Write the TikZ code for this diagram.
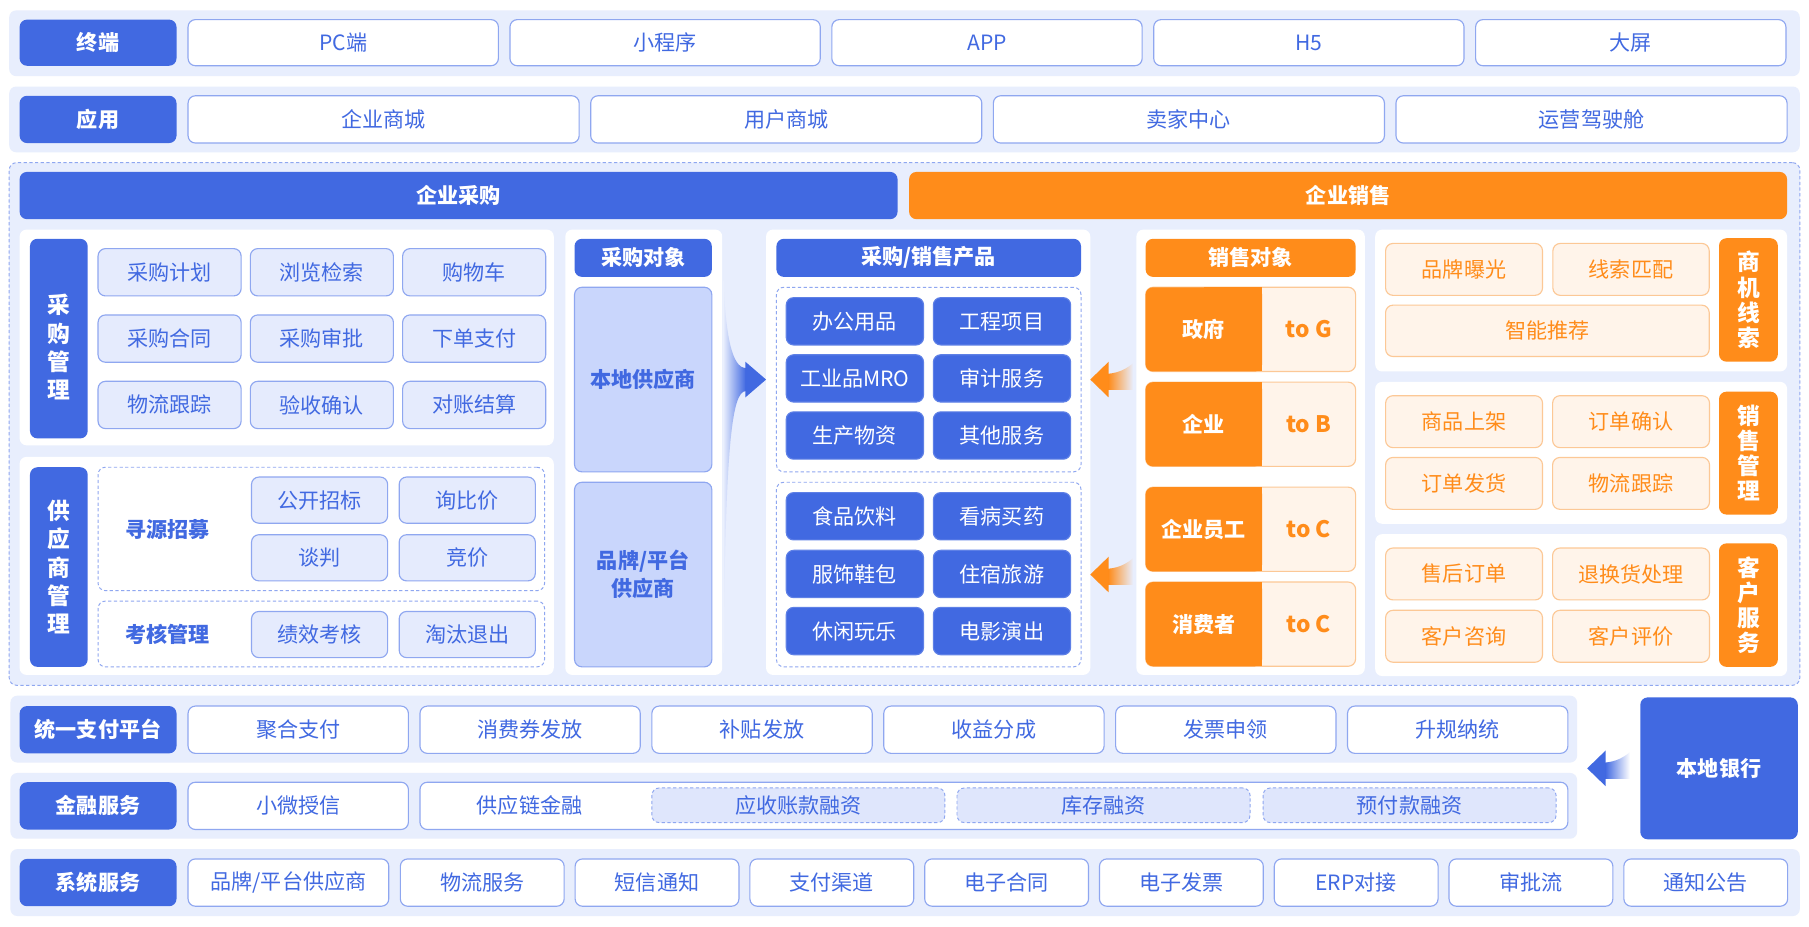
\documentclass[tikz,border=0pt]{standalone}
\usepackage{fontspec}
\setmainfont{Noto Sans CJK SC}
\definecolor{cblue}{HTML}{4169E1}
\definecolor{clav}{HTML}{E8EEFD}
\definecolor{cgrid}{HTML}{E5EBFD}
\definecolor{csup}{HTML}{C9D6FC}
\definecolor{cline}{HTML}{8FA7F0}
\definecolor{corange}{HTML}{FF8C1A}
\definecolor{clor}{HTML}{FFF4EA}
\definecolor{cobord}{HTML}{FCC896}
\definecolor{cfin}{HTML}{DFE6FC}
\tikzset{
  every picture/.style={font=\fontsize{13}{16}\selectfont, line width=0.7pt},
  sz/.style 2 args={minimum width=#1*0.25mm, minimum height=#2*0.25mm},
  bg/.style={fill=clav, rounded corners=1.5mm},
  panel/.style={fill=white, rounded corners=1.5mm},
  lab/.style={fill=cblue, text=white, font=\fontsize{13}{16}\selectfont\bfseries, rounded corners=1.6mm},
  olab/.style={fill=corange, text=white, font=\fontsize{13}{16}\selectfont\bfseries, rounded corners=1.6mm},
  wbox/.style={fill=white, draw=cline, text=cblue, rounded corners=1.6mm},
  gbox/.style={fill=cgrid, draw=cline, text=cblue, rounded corners=1.6mm},
  supbox/.style={fill=csup, draw=cline, text=cblue, align=center, font=\fontsize{13}{17}\selectfont\bfseries, rounded corners=1.6mm},
  pbox/.style={fill=cblue, draw=cblue!85!white, text=white, rounded corners=1.6mm},
  obox/.style={fill=clor, draw=cobord, text=corange, rounded corners=1.6mm},
  grp/.style={draw=cline, line width=0.6pt, dash pattern=on 2pt off 1.5pt, rounded corners=1.6mm},
  vtext/.style={align=center, font=\fontsize{14}{17.4}\selectfont\bfseries},
  vtexto/.style={align=center, font=\fontsize{14}{15.5}\selectfont\bfseries},
  head/.style={text=cblue, font=\fontsize{13}{16}\selectfont\bfseries},
}

\begin{document}
\begin{tikzpicture}[x=0.25mm, y=-0.25mm, every node/.style={inner sep=0pt, outer sep=0pt}]
  \fill[white] (0,0) rectangle (1568,803);
  % ---- row backgrounds ----
  \node[bg, sz={1552}{57}] (rterm) at (784,37.5) {};
  \node[bg, sz={1552}{57}] (rapp) at (784,103.5) {};
  \node[bg, grp, sz={1552}{453}] (rmain) at (784,367.5) {};
  \node[bg, sz={1358}{58}] (rpay) at (688,632) {};
  \node[bg, sz={1358}{57}] (rfin) at (688,698.5) {};
  \node[bg, sz={1551}{58}] (rsys) at (784.5,765) {};
  % ---- terminals and apps ----
  \node[lab, sz={136}{40}] (term) at (85,37) {终端};
  \foreach \t [count=\i from 0] in {PC端, 小程序, APP, H5, 大屏}
    \node[wbox, sz={269}{40}] (term\i) at ({297.5+279*\i},37) {\t};
  \node[lab, sz={136}{41}] (app) at (85,103.5) {应用};
  \foreach \t [count=\i from 0] in {企业商城, 用户商城, 卖家中心, 运营驾驶舱}
    \node[wbox, sz={339}{41}] (app\i) at ({332.5+349*\i},103.5) {\t};
  % ---- purchase / sale ----
  \node[lab, sz={761}{41}] (buy) at (397.5,169.5) {企业采购};
  \node[olab, sz={761}{41}] (sell) at (1168.5,169.5) {企业销售};
  \node[panel, sz={463}{187}] (pm) at (248.5,292.5) {};
  \node[panel, sz={463}{189}] (sm) at (248.5,490.5) {};
  \node[panel, sz={136}{386}] (obj) at (558,392) {};
  \node[panel, sz={281}{386}] (prod) at (804.5,392) {};
  \node[panel, sz={198}{386}] (tgt) at (1084,392) {};
  \foreach \n/\y in {lead/260.5, order/392.5, serv/524.5}
    \node[panel, sz={357}{123}] (\n) at (1370.5,\y) {};
  % purchase management
  \node[lab, sz={50}{173}] (pmside) at (51,293.5) {};
  \node[vtext, text=white] (pmsidet) at (51,301) {采\\购\\管\\理};
  \foreach \t/\c/\r in {采购计划/0/0, 浏览检索/1/0, 购物车/2/0, 采购合同/0/1, 采购审批/1/1, 下单支付/2/1, 物流跟踪/0/2, 验收确认/1/2, 对账结算/2/2}
    \node[gbox, sz={124}{41}] (pm\c\r) at ({147+132*\c},{236+57.5*\r}) {\t};
  % supplier management
  \node[lab, vtext, sz={50}{173}] (smside) at (51,491.5) {供\\应\\商\\管\\理};
  \node[grp, sz={387}{107}] (src) at (278.5,458.5) {};
  \node[grp, sz={387}{57}] (rev) at (278.5,549.5) {};
  \node[head] (srct) at (145,459) {寻源招募};
  \node[head] (revt) at (145,550) {考核管理};
  \foreach \t/\x/\y [count=\i] in {公开招标/277/433.5, 询比价/405/433.5, 谈判/277/483.5, 竞价/405/483.5, 绩效考核/277/550, 淘汰退出/405/550}
    \node[gbox, sz={118}{40}] (sm\i) at (\x,\y) {\t};
  % purchase objects
  \node[lab, sz={119}{33}] (objh) at (557.5,223.5) {采购对象};
  \node[supbox, sz={119}{160}] (local) at (557.5,329) {本地供应商};
  \node[supbox, sz={119}{160}] (brand) at (557.5,498) {品牌/平台\\供应商};
  % products
  \node[lab, sz={264}{33}] (prodh) at (805,223.5) {采购/销售产品};
  \node[grp, sz={264}{160}] (g1) at (805,329) {};
  \node[grp, sz={264}{160}] (g2) at (805,498) {};
  \foreach \t/\x/\y [count=\i] in {办公用品/741/278.5, 工程项目/868.5/278.5, 工业品MRO/741/328, 审计服务/868.5/328, 生产物资/741/377.5, 其他服务/868.5/377.5, 食品饮料/741/447.5, 看病买药/868.5/447.5, 服饰鞋包/741/497.5, 住宿旅游/868.5/497.5, 休闲玩乐/741/547, 电影演出/868.5/547}
    \node[pbox, sz={119}{41}] (pr\i) at (\x,\y) {\t};
  % sale targets
  \node[olab, sz={182}{33}] (tgth) at (1084,223.5) {销售对象};
  \foreach \n/\y/\a/\b in {gov/285.5/政府/to G, ent/367.75/企业/to B, emp/458.75/企业员工/to C, con/541/消费者/to C} {
    \node[obox, sz={182}{73}] (\n) at (1084,\y) {};
    \node[fill=corange, rounded corners=1.6mm, sz={101}{73}] (\n-l) at (1043.5,\y) {};
    \fill[corange] (\n-l.north) rectangle (\n-l.south east);
    \node[text=white, font=\fontsize{13}{16}\selectfont\bfseries] (\n-a) at (\n-l) {\a};
    \node[text=corange, font=\fontsize{14}{16}\selectfont\bfseries] (\n-b) at (1134.5,\y) {\b};
  }
  % sale side
  \node[olab, vtexto, sz={51}{107}] (leadside) at (1515.5,260) {商\\机\\线\\索};
  \node[obox, sz={136}{45}] (ld1) at (1269,233.5) {品牌曝光};
  \node[obox, sz={135.5}{45}] (ld2) at (1413.75,233.5) {线索匹配};
  \node[obox, sz={280.5}{44.5}] (ld3) at (1341.25,286.75) {智能推荐};
  \node[olab, vtexto, sz={51}{106.5}] (ordside) at (1515.5,392.75) {销\\售\\管\\理};
  \foreach \t/\x/\y [count=\i] in {商品上架/1269/365.5, 订单确认/1413.75/365.5, 订单发货/1269/419, 物流跟踪/1413.75/419}
    \node[obox, sz={136}{45}] (od\i) at (\x,\y) {\t};
  \node[olab, vtexto, sz={51}{107}] (servside) at (1515.5,524.5) {客\\户\\服\\务};
  \foreach \t/\x/\y [count=\i] in {售后订单/1269/497.5, 退换货处理/1413.75/497.5, 客户咨询/1269/551.5, 客户评价/1413.75/551.5}
    \node[obox, sz={136}{45}] (sv\i) at (\x,\y) {\t};
  % ---- payment, finance, system ----
  \node[lab, sz={136}{41}] (pay) at (85,632.5) {统一支付平台};
  \foreach \t [count=\i from 0] in {聚合支付, 消费券发放, 补贴发放, 收益分成, 发票申领, 升规纳统}
    \node[wbox, sz={191}{41}] (pay\i) at ({258.5+201*\i},632.5) {\t};
  \node[lab, sz={136}{41}] (fin) at (85,698.5) {金融服务};
  \node[wbox, sz={191}{41}] (fin0) at (258.5,698.5) {小微授信};
  \node[wbox, sz={995}{41}] (scf) at (861.5,698.5) {};
  \node[text=cblue] (scft) at (459,698.5) {供应链金融};
  \foreach \t/\x [count=\i] in {应收账款融资/692, 库存融资/956.5, 预付款融资/1221.75}
    \node[grp, fill=cfin, text=cblue, sz={254}{30}] (scf\i) at (\x,698) {\t};
  \node[lab, sz={136.5}{123}] (bank) at (1490,666) {本地银行};
  \node[lab, sz={136}{41}] (sys) at (85,765) {系统服务};
  \node[wbox, sz={174}{41}] (sys0) at (250,765) {品牌/平台供应商};
  \foreach \t [count=\i] in {物流服务, 短信通知, 支付渠道, 电子合同, 电子发票, ERP对接, 审批流, 通知公告}
    \node[wbox, sz={142}{41}] (sys\i) at ({418+151.5*(\i-1)},765) {\t};
  % ---- arrows ----
  \coordinate (in) at (g1 -| prod.west);
  \shade[shift={(in)}, left color=clav, right color=cblue]
    (-17.5,-10) .. controls (-30,-10) and (-35,-40) .. (-37,-86)
    -- (-37,237) .. controls (-35,60) and (-30,10) .. (-17.5,10) -- cycle;
  \fill[cblue, shift={(in)}] (0,0) -- (-18,-15.5) -- (-18,15.5) -- cycle;
  \coordinate (out1) at (g1 -| prod.east);
  \coordinate (out2) at (g2 -| prod.east);
  \coordinate (bk) at ([xshift=-11.5mm]bank.west);
  \foreach \p/\c/\e in {out1/corange/clav, out2/corange/clav, bk/cblue/white} {
    \shade[shift={(\p)}, left color=\c, right color=\e]
      (15.5,-5) .. controls (26,-6) and (32,-10) .. (37,-14) -- (37,9) -- (15.5,9) -- cycle;
    \fill[\c, shift={(\p)}] (0,0) -- (16,-15.5) -- (16,15.5) -- cycle;
  }
\end{tikzpicture}
\end{document}
